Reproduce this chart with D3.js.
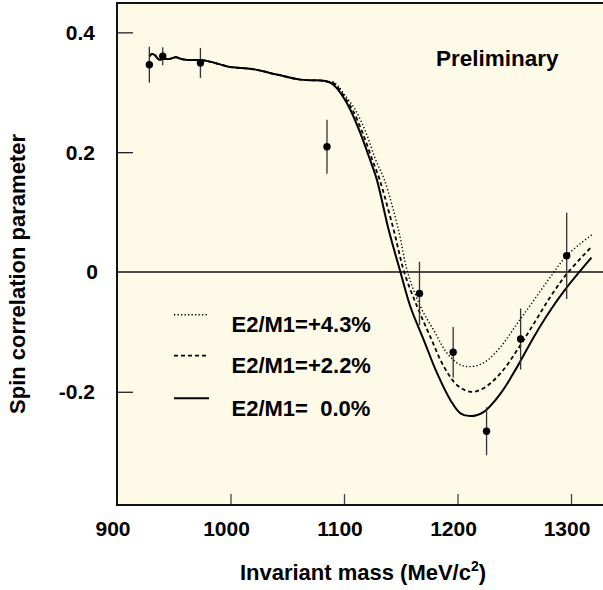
<!DOCTYPE html>
<html>
<head>
<meta charset="utf-8">
<script src="https://cdn.jsdelivr.net/npm/d3@7"></script>
<style>
  html, body { margin: 0; padding: 0; background: #ffffff; }
  svg { display: block; }
  text { font-family: "Liberation Sans", Arial, Helvetica, sans-serif; font-weight: bold; fill: #000; }
</style>
</head>
<body>
<svg id="chart" width="603" height="590"></svg>
<script>
// Measured spin correlation parameter with statistical errors
const massPoints  = [928.5, 940.3, 973.5, 1085, 1166.5, 1196.2, 1225.6, 1255.6, 1296.2];
const spinValues  = [0.346, 0.360, 0.349, 0.209, -0.036, -0.134, -0.266, -0.112, 0.027];
const spinErrors  = [0.030, 0.015, 0.025, 0.045, 0.053, 0.042, 0.040, 0.051, 0.072];

// Low-mass part common to all three model curves
const commonCurve = [
  [928.5, 0.360], [930.5, 0.3636], [933, 0.3626], [937, 0.3545], [941, 0.3555],
  [946, 0.3555], [952, 0.3585], [956, 0.356], [962, 0.354], [975, 0.3535],
  [980, 0.352], [990, 0.347], [1000, 0.342], [1010, 0.3405], [1020, 0.3385],
  [1030, 0.3345], [1038, 0.3305], [1045, 0.328], [1052, 0.3245], [1060, 0.3215],
  [1070, 0.320], [1080, 0.3195], [1086, 0.3175]
];

// Model predictions above 1086 MeV for each E2/M1 ratio
const curveE2M1_00 = [
  [1090, 0.3135], [1094, 0.306], [1100, 0.290], [1105.6, 0.2707], [1114.4, 0.2317],
  [1123, 0.187], [1129, 0.1537], [1139.4, 0.070], [1149.7, 0], [1158.5, -0.058],
  [1170.3, -0.1136], [1182, -0.169], [1193.8, -0.214], [1202.6, -0.236], [1211.5, -0.2406],
  [1223.2, -0.2334], [1238, -0.2027], [1252.7, -0.158], [1267.4, -0.108], [1282, -0.0635],
  [1296.8, -0.0245], [1318, 0.024]
];
const curveE2M1_22 = [
  [1090, 0.316], [1095, 0.307], [1100, 0.2935], [1107.5, 0.2707], [1116.5, 0.2317],
  [1125, 0.187], [1131.5, 0.1537], [1143.8, 0.070], [1153, 0], [1164.5, -0.058],
  [1176, -0.108], [1188, -0.158], [1199.7, -0.189], [1211.5, -0.200], [1223, -0.194],
  [1238, -0.169], [1252.7, -0.130], [1267.4, -0.0858], [1282, -0.041], [1296.8, -0.002],
  [1317.4, 0.0406]
];
const curveE2M1_43 = [
  [1090, 0.318], [1095, 0.310], [1100, 0.297], [1110, 0.2707], [1119.5, 0.2317],
  [1128, 0.187], [1135.6, 0.1537], [1148, 0.070], [1156, 0], [1167.4, -0.058],
  [1179, -0.097], [1191, -0.136], [1202.6, -0.155], [1211.5, -0.158], [1223.2, -0.1515],
  [1238, -0.125], [1252.7, -0.0858], [1267.4, -0.047], [1282, -0.008], [1296.8, 0.0284],
  [1319, 0.063]
];

const legendLabels = ["E2/M1=+4.3%", "E2/M1=+2.2%", "E2/M1=  0.0%"];
const xTickValues = [900, 1000, 1100, 1200, 1300];
const yTickValues = [0.4, 0.2, 0, -0.2];
const yTickLabels = ["0.4", "0.2", "0", "-0.2"];

const svg = d3.select("#chart");

const x = d3.scaleLinear().domain([900, 1300]).range([117, 571]);
const y = d3.scaleLinear().domain([-0.389, 0.449]).range([505, 3]);
const xMax = 1330;

// plot area
svg.append("rect")
  .attr("x", x(900)).attr("y", y(0.449))
  .attr("width", x(xMax) - x(900)).attr("height", y(-0.389) - y(0.449))
  .attr("fill", "#fdfae8");

// inward tick marks
const xAxis = d3.axisBottom(x).tickValues(xTickValues.slice(1)).tickSize(-11).tickFormat("");
svg.append("g").attr("transform", `translate(0,${y(-0.389)})`).call(xAxis)
  .call(g => g.select(".domain").remove())
  .call(g => g.selectAll(".tick line").attr("stroke", "#444").attr("stroke-width", 1.3));

const yAxis = d3.axisLeft(y).tickValues(yTickValues.filter(v => v !== 0)).tickSize(-16).tickFormat("");
svg.append("g").attr("transform", `translate(${x(900)},0)`).call(yAxis)
  .call(g => g.select(".domain").remove())
  .call(g => g.selectAll(".tick line").attr("stroke", "#222").attr("stroke-width", 1.3));

// tick labels
svg.append("g").selectAll("text").data(xTickValues).join("text")
  .attr("x", d => x(d) - 4).attr("y", 536)
  .attr("text-anchor", "middle").attr("font-size", 21)
  .text(d => d);
svg.append("g").selectAll("text").data(yTickValues).join("text")
  .attr("x", d => d === 0 ? 98 : 95).attr("y", d => y(d) + 7.5)
  .attr("text-anchor", "end").attr("font-size", 21)
  .text((d, i) => yTickLabels[i]);

// zero line
svg.append("line")
  .attr("x1", x(900)).attr("x2", x(xMax))
  .attr("y1", y(0)).attr("y2", y(0))
  .attr("stroke", "#111").attr("stroke-width", 1.4);

// model curves
const line = d3.line().x(d => x(d[0])).y(d => y(d[1])).curve(d3.curveCatmullRom.alpha(0.5));
const curves = [
  { data: commonCurve.concat(curveE2M1_43), width: 1.4, dash: "1.3,2.2" },
  { data: commonCurve.concat(curveE2M1_22), width: 1.8, dash: "4,3" },
  { data: commonCurve.concat(curveE2M1_00), width: 2, dash: null }
];
svg.append("g").selectAll("path").data(curves).join("path")
  .attr("d", d => line(d.data))
  .attr("fill", "none").attr("stroke", "#000")
  .attr("stroke-width", d => d.width)
  .attr("stroke-dasharray", d => d.dash);

// data points with error bars
const pts = massPoints.map((m, i) => ({ m, v: spinValues[i], e: spinErrors[i] }));
svg.append("g").selectAll("line").data(pts).join("line")
  .attr("x1", d => x(d.m)).attr("x2", d => x(d.m))
  .attr("y1", d => y(d.v + d.e)).attr("y2", d => y(d.v - d.e))
  .attr("stroke", "#333").attr("stroke-width", 1.3);
svg.append("g").selectAll("circle").data(pts).join("circle")
  .attr("cx", d => x(d.m)).attr("cy", d => y(d.v)).attr("r", 3.7)
  .attr("fill", "#000");

// frame
svg.append("rect")
  .attr("x", x(900)).attr("y", y(0.449))
  .attr("width", x(xMax) - x(900)).attr("height", y(-0.389) - y(0.449))
  .attr("fill", "none").attr("stroke", "#111").attr("stroke-width", 2);

// legend
const legend = svg.append("g");
legendLabels.forEach((label, i) => {
  const ly = [314.7, 355.7, 398.3][i];
  legend.append("line")
    .attr("x1", 174).attr("x2", 209).attr("y1", ly).attr("y2", ly)
    .attr("stroke", "#000").attr("stroke-width", curves[i].width)
    .attr("stroke-dasharray", curves[i].dash);
  legend.append("text")
    .attr("x", 231.5).attr("y", ly + 17.5)
    .attr("font-size", 22).style("white-space", "pre")
    .text(label);
});

svg.append("text").attr("x", 436).attr("y", 65.5).attr("font-size", 22.5).text("Preliminary");

// axis titles
const xt = svg.append("text").attr("x", 363).attr("y", 580)
  .attr("text-anchor", "middle").attr("font-size", 22);
xt.append("tspan").text("Invariant mass (MeV/c");
xt.append("tspan").attr("font-size", 14).attr("dy", -9).text("2");
xt.append("tspan").attr("dy", 9).text(")");

svg.append("text")
  .attr("transform", "translate(25,274) rotate(-90)")
  .attr("text-anchor", "middle").attr("font-size", 22)
  .text("Spin correlation parameter");
</script>
</body>
</html>
